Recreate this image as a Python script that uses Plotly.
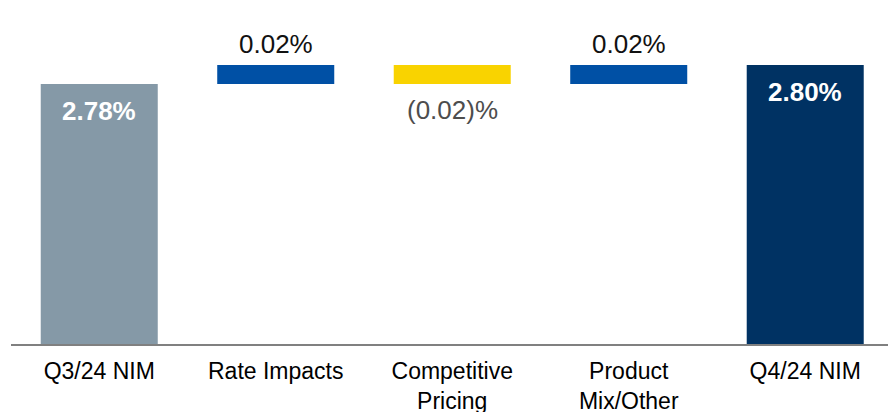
import plotly.graph_objects as go

categories = ["Q3/24 NIM", "Rate Impacts", "Competitive<br>Pricing", "Product<br>Mix/Other", "Q4/24 NIM"]
start_nim = 2.78
deltas = [0.02, -0.02, 0.02]
end_nim = 2.80

bar_colors = ["#8599A7", "#0050A5", "#F9D300", "#0050A5", "#003263"]

# build waterfall pieces from data
values = [start_nim]
bases = [0]
running = start_nim
for d in deltas:
    values.append(d)
    bases.append(running)
    running += d
values.append(end_nim)
bases.append(0)


def fmt_delta(v):
    return f"{v:.2f}%" if v >= 0 else f"({abs(v):.2f})%"


fig = go.Figure()
fig.add_trace(go.Bar(
    x=categories, y=values, base=bases,
    marker=dict(color=bar_colors, line=dict(width=0)),
    hoverinfo="skip",
))

ann = []
# totals: white bold inside near top
for i in (0, len(categories) - 1):
    ann.append(dict(x=categories[i], y=values[i], text=f"<b>{values[i]:.2f}%</b>",
                    showarrow=False, yanchor="middle", yshift=-27,
                    font=dict(family="Liberation Sans, Arial", size=26, color="white")))
for j, d in enumerate(deltas):
    i = j + 1
    top = bases[i] + max(d, 0)
    bot = bases[i] + min(d, 0)
    if d >= 0:
        ann.append(dict(x=categories[i], y=top, text=fmt_delta(d), showarrow=False,
                        yanchor="middle", yshift=21,
                        font=dict(family="Liberation Sans, Arial", size=26, color="#111111")))
    else:
        ann.append(dict(x=categories[i], y=bot, text=fmt_delta(d), showarrow=False,
                        yanchor="middle", yshift=-26,
                        font=dict(family="Liberation Sans, Arial", size=26, color="#4D4D4D")))

fig.update_layout(
    width=888, height=412,
    margin=dict(l=11, r=0, t=0, b=68),
    plot_bgcolor="white", paper_bgcolor="white",
    showlegend=False,
    bargap=0.337,
    annotations=ann,
    xaxis=dict(
        type="category", range=[-0.5, 4.469], automargin=False,
        showline=True, linecolor="#808080", linewidth=2,
        showgrid=False, zeroline=False, ticks="", ticklabelstandoff=5,
        tickfont=dict(family="Liberation Sans, Arial", size=23, color="#000000"),
    ),
    yaxis=dict(range=[2.5063, 2.8684], visible=False, showgrid=False, zeroline=False,
               automargin=False),
)

fig.write_html("out.html")
